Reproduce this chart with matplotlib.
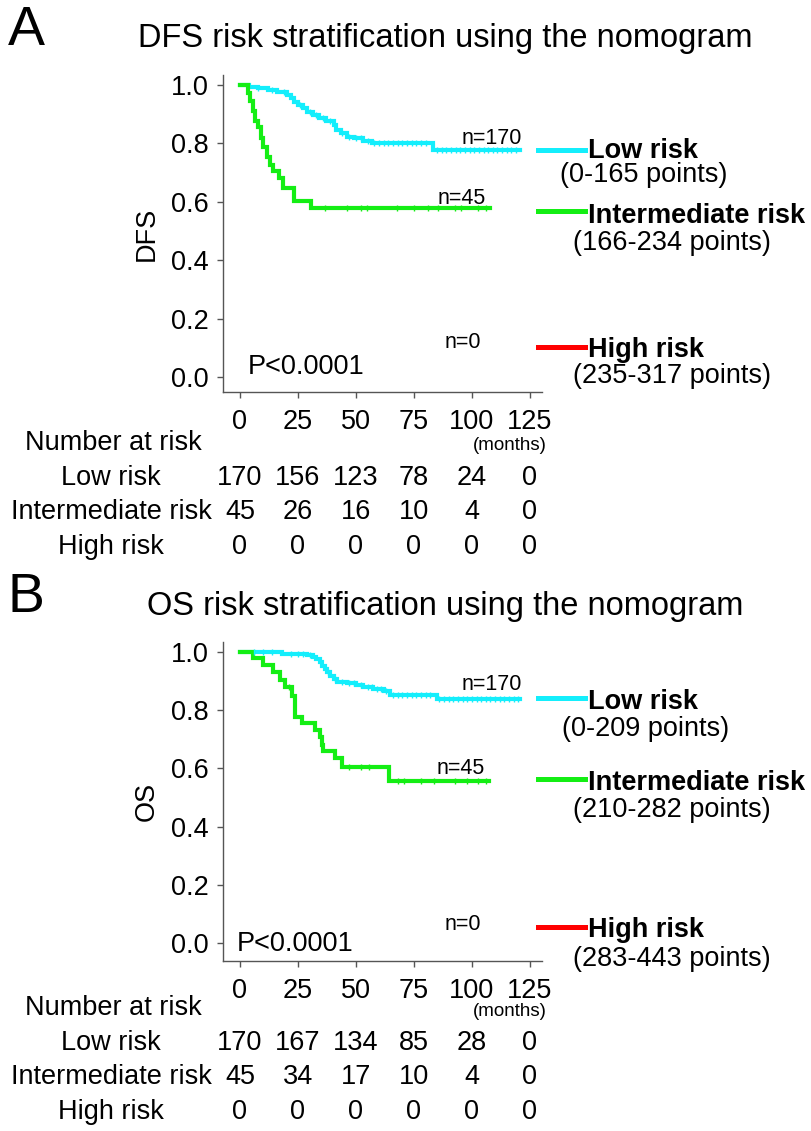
import numpy as np
import matplotlib
matplotlib.use('Agg')
import matplotlib.pyplot as plt
from matplotlib.lines import Line2D

plt.rcParams['font.family'] = ['Liberation Sans', 'DejaVu Sans']

W, H = 811, 1131

def fx(px):
    return px / W

def fy(py):
    return 1 - py / H

" DATA "

months = [0, 25, 50, 75, 100, 125]
groups = ['Low risk', 'Intermediate risk', 'High risk']
colors = ['#14eefc', '#14ee14', '#ff0000']

# DFS curves: step times (months) and survival after each step
dfs_low_t = [0, 4, 8, 12, 16, 20.5, 22, 23.5, 25, 27, 29, 31.5, 34, 37, 40.5, 41.5, 43.5, 46, 49, 53, 57, 83.3]
dfs_low_s = [1.0, 0.994, 0.988, 0.982, 0.976, 0.967, 0.955, 0.943, 0.931, 0.92, 0.908, 0.897, 0.887, 0.876, 0.864, 0.845, 0.834, 0.823, 0.817, 0.808, 0.8, 0.777]
dfs_low_end = 120.7
dfs_low_cens = [8, 14, 19, 26, 30, 33, 36, 39, 44, 47, 50, 52, 55, 58, 60, 62, 64, 66, 68, 70, 72, 74, 76,
                78, 80, 85, 87, 89, 91, 93, 95, 97, 99, 101, 103, 105, 107, 109, 111, 113, 115, 117, 119]

dfs_mid_t = [0, 3.3, 4.3, 5.5, 6.5, 7.8, 9.2, 10, 11.5, 12.9, 14.4, 17, 18.7, 23.5, 30.8]
dfs_mid_s = [1.0, 0.973, 0.945, 0.91, 0.878, 0.855, 0.82, 0.787, 0.752, 0.727, 0.705, 0.68, 0.648, 0.602, 0.578]
dfs_mid_end = 107.7
dfs_mid_cens = [36.8, 46.2, 52, 54.9, 67.9, 75.1, 80.9, 85.3, 92.5, 95.4, 102.6, 106]

dfs_at_risk = [[170, 156, 123, 78, 24, 0],
               [45, 26, 16, 10, 4, 0],
               [0, 0, 0, 0, 0, 0]]
dfs_n = [170, 45, 0]
dfs_points = ['(0-165 points)', '(166-234 points)', '(235-317 points)']

# OS curves
os_low_t = [0, 18, 29, 31.5, 33, 34.5, 35.5, 36.5, 37.5, 39, 40.5, 42, 46, 50, 53, 57.5, 62, 64.5, 84.8]
os_low_s = [1.0, 0.994, 0.988, 0.982, 0.976, 0.965, 0.953, 0.941, 0.93, 0.918, 0.906, 0.898, 0.892, 0.886, 0.88, 0.874, 0.865, 0.853, 0.837]
os_low_end = 120.7
os_low_cens = [6, 10, 14, 22, 25, 27, 30, 38, 41, 44, 47, 49, 52, 55, 57, 59, 61, 63, 66, 68, 70, 72, 74, 76,
               78, 80, 82, 86, 88, 90, 92, 94, 96, 98, 100, 102, 104, 106, 108, 110, 112, 114, 116, 118, 120]

os_mid_t = [0, 5.7, 10, 14.4, 17.2, 19.4, 22.3, 23.7, 26.6, 32.3, 34.5, 35.2, 35.9, 41, 43.8, 64.3]
os_mid_s = [1.0, 0.979, 0.955, 0.932, 0.904, 0.881, 0.847, 0.778, 0.755, 0.732, 0.709, 0.68, 0.658, 0.634, 0.605, 0.557]
os_mid_end = 107.3
os_mid_cens = [21, 47, 52, 55.5, 68, 70.8, 78, 83.8, 92.5, 98, 102.6, 106]

os_at_risk = [[170, 167, 134, 85, 28, 0],
              [45, 34, 17, 10, 4, 0],
              [0, 0, 0, 0, 0, 0]]
os_n = [170, 45, 0]
os_points = ['(0-209 points)', '(210-282 points)', '(283-443 points)']


def step_value(t, s, x):
    i = np.searchsorted(t, x, side='right') - 1
    return np.array(s)[i]


def draw_curve(ax, t, s, end, cens, color):
    tt = list(t) + [end]
    ss = list(s) + [s[-1]]
    ax.step(tt, ss, where='post', color=color, lw=3.0, solid_joinstyle='miter', zorder=3)
    cy = step_value(t, s, cens)
    ax.plot(cens, cy, ls='none', marker='|', ms=5, mew=1.0, color=color, zorder=4)


fig = plt.figure(figsize=(W / 100, H / 100), dpi=100)

panels = [
    dict(letter='A', title='DFS risk stratification using the nomogram', ylabel='DFS', off=0, toff=0,
         top=75, bottom=392, ylim=(-0.051, 1.034),
         curves=[(dfs_low_t, dfs_low_s, dfs_low_end, dfs_low_cens), (dfs_mid_t, dfs_mid_s, dfs_mid_end, dfs_mid_cens)],
         at_risk=dfs_at_risk, n=dfs_n, points=dfs_points,
         n_y=[138, 198, 343], n_x=[462, 438, 445], p_x=248, p_y=367,
         leg_y=[150, 211, 347], lab_y=[151, 216, 350], pts_y=[175, 243, 376], pts_x=[560, 573, 573]),
    dict(letter='B', title='OS risk stratification using the nomogram', ylabel='OS', off=567, toff=565,
         top=642, bottom=961, ylim=(-0.062, 1.034),
         curves=[(os_low_t, os_low_s, os_low_end, os_low_cens), (os_mid_t, os_mid_s, os_mid_end, os_mid_cens)],
         at_risk=os_at_risk, n=os_n, points=os_points,
         n_y=[684, 769, 925], n_x=[462, 437, 445], p_x=237, p_y=944,
         leg_y=[698, 779, 927], lab_y=[702, 783, 930], pts_y=[729, 810, 959], pts_x=[562, 573, 573]),
]

for p in panels:
    off = p['off']
    toff = p['toff']
    ax = fig.add_axes([fx(223), fy(p['bottom']), fx(542 - 223), (p['bottom'] - p['top']) / H])
    for (t, s, end, cens), c in zip(p['curves'], colors):
        draw_curve(ax, t, s, end, cens, c)

    ax.set_xlim(-7.3, 130.2)
    ax.set_ylim(*p['ylim'])
    ax.set_xticks(months)
    ax.set_yticks([0.0, 0.2, 0.4, 0.6, 0.8, 1.0])
    ax.set_yticklabels(['0.0', '0.2', '0.4', '0.6', '0.8', '1.0'])
    for side in ['top', 'right']:
        ax.spines[side].set_visible(False)
    for side in ['left', 'bottom']:
        ax.spines[side].set_color('#555555')
        ax.spines[side].set_linewidth(1.0)
    ax.tick_params(direction='out', length=4, width=1.0, color='#555555', labelsize=19.5)
    ax.tick_params(axis='x', pad=8)
    ax.tick_params(axis='y', pad=6)
    ax.set_ylabel(p['ylabel'], fontsize=19.5, labelpad=8)

    # panel letter and title
    fig.text(fx(8), fy(31 + off), p['letter'], fontsize=40, ha='left', va='center')
    fig.text(fx(445), fy(39 + off), p['title'], fontsize=23.5, ha='center', va='center')

    # n labels and p-value
    for n, nx, ny in zip(p['n'], p['n_x'], p['n_y']):
        fig.text(fx(nx), fy(ny), f'n={n}', fontsize=15.5, ha='left', va='center')
    fig.text(fx(p['p_x']), fy(p['p_y']), 'P<0.0001', fontsize=19.5, ha='left', va='center')
    fig.text(fx(547), fy(446 + toff), '(months)', fontsize=13.5, ha='right', va='center')

    # group key at the right
    for g, c, ly, lb, py, px, pts in zip(groups, colors, p['leg_y'], p['lab_y'], p['pts_y'],
                                         p['pts_x'], p['points']):
        fig.add_artist(Line2D([fx(538), fx(585)], [fy(ly), fy(ly)], color=c, lw=3.6))
        fig.text(fx(588), fy(lb), g, fontsize=19.5, fontweight='bold', ha='left', va='center')
        fig.text(fx(px), fy(py), pts, fontsize=19.5, ha='left', va='center')

    # number at risk table
    fig.text(fx(25), fy(443 + toff), 'Number at risk', fontsize=19.5, ha='left', va='center')
    for r, (g, row) in enumerate(zip(groups, p['at_risk'])):
        ry = 478 + 34.5 * r + toff
        fig.text(fx(111), fy(ry), g, fontsize=19.5, ha='center', va='center')
        for m, v in zip(months, row):
            xd = ax.transData.transform((m, 0))[0]
            fig.text(xd / W, fy(ry), str(v), fontsize=19.5, ha='center', va='center')

fig.savefig('out.png', dpi=100)
